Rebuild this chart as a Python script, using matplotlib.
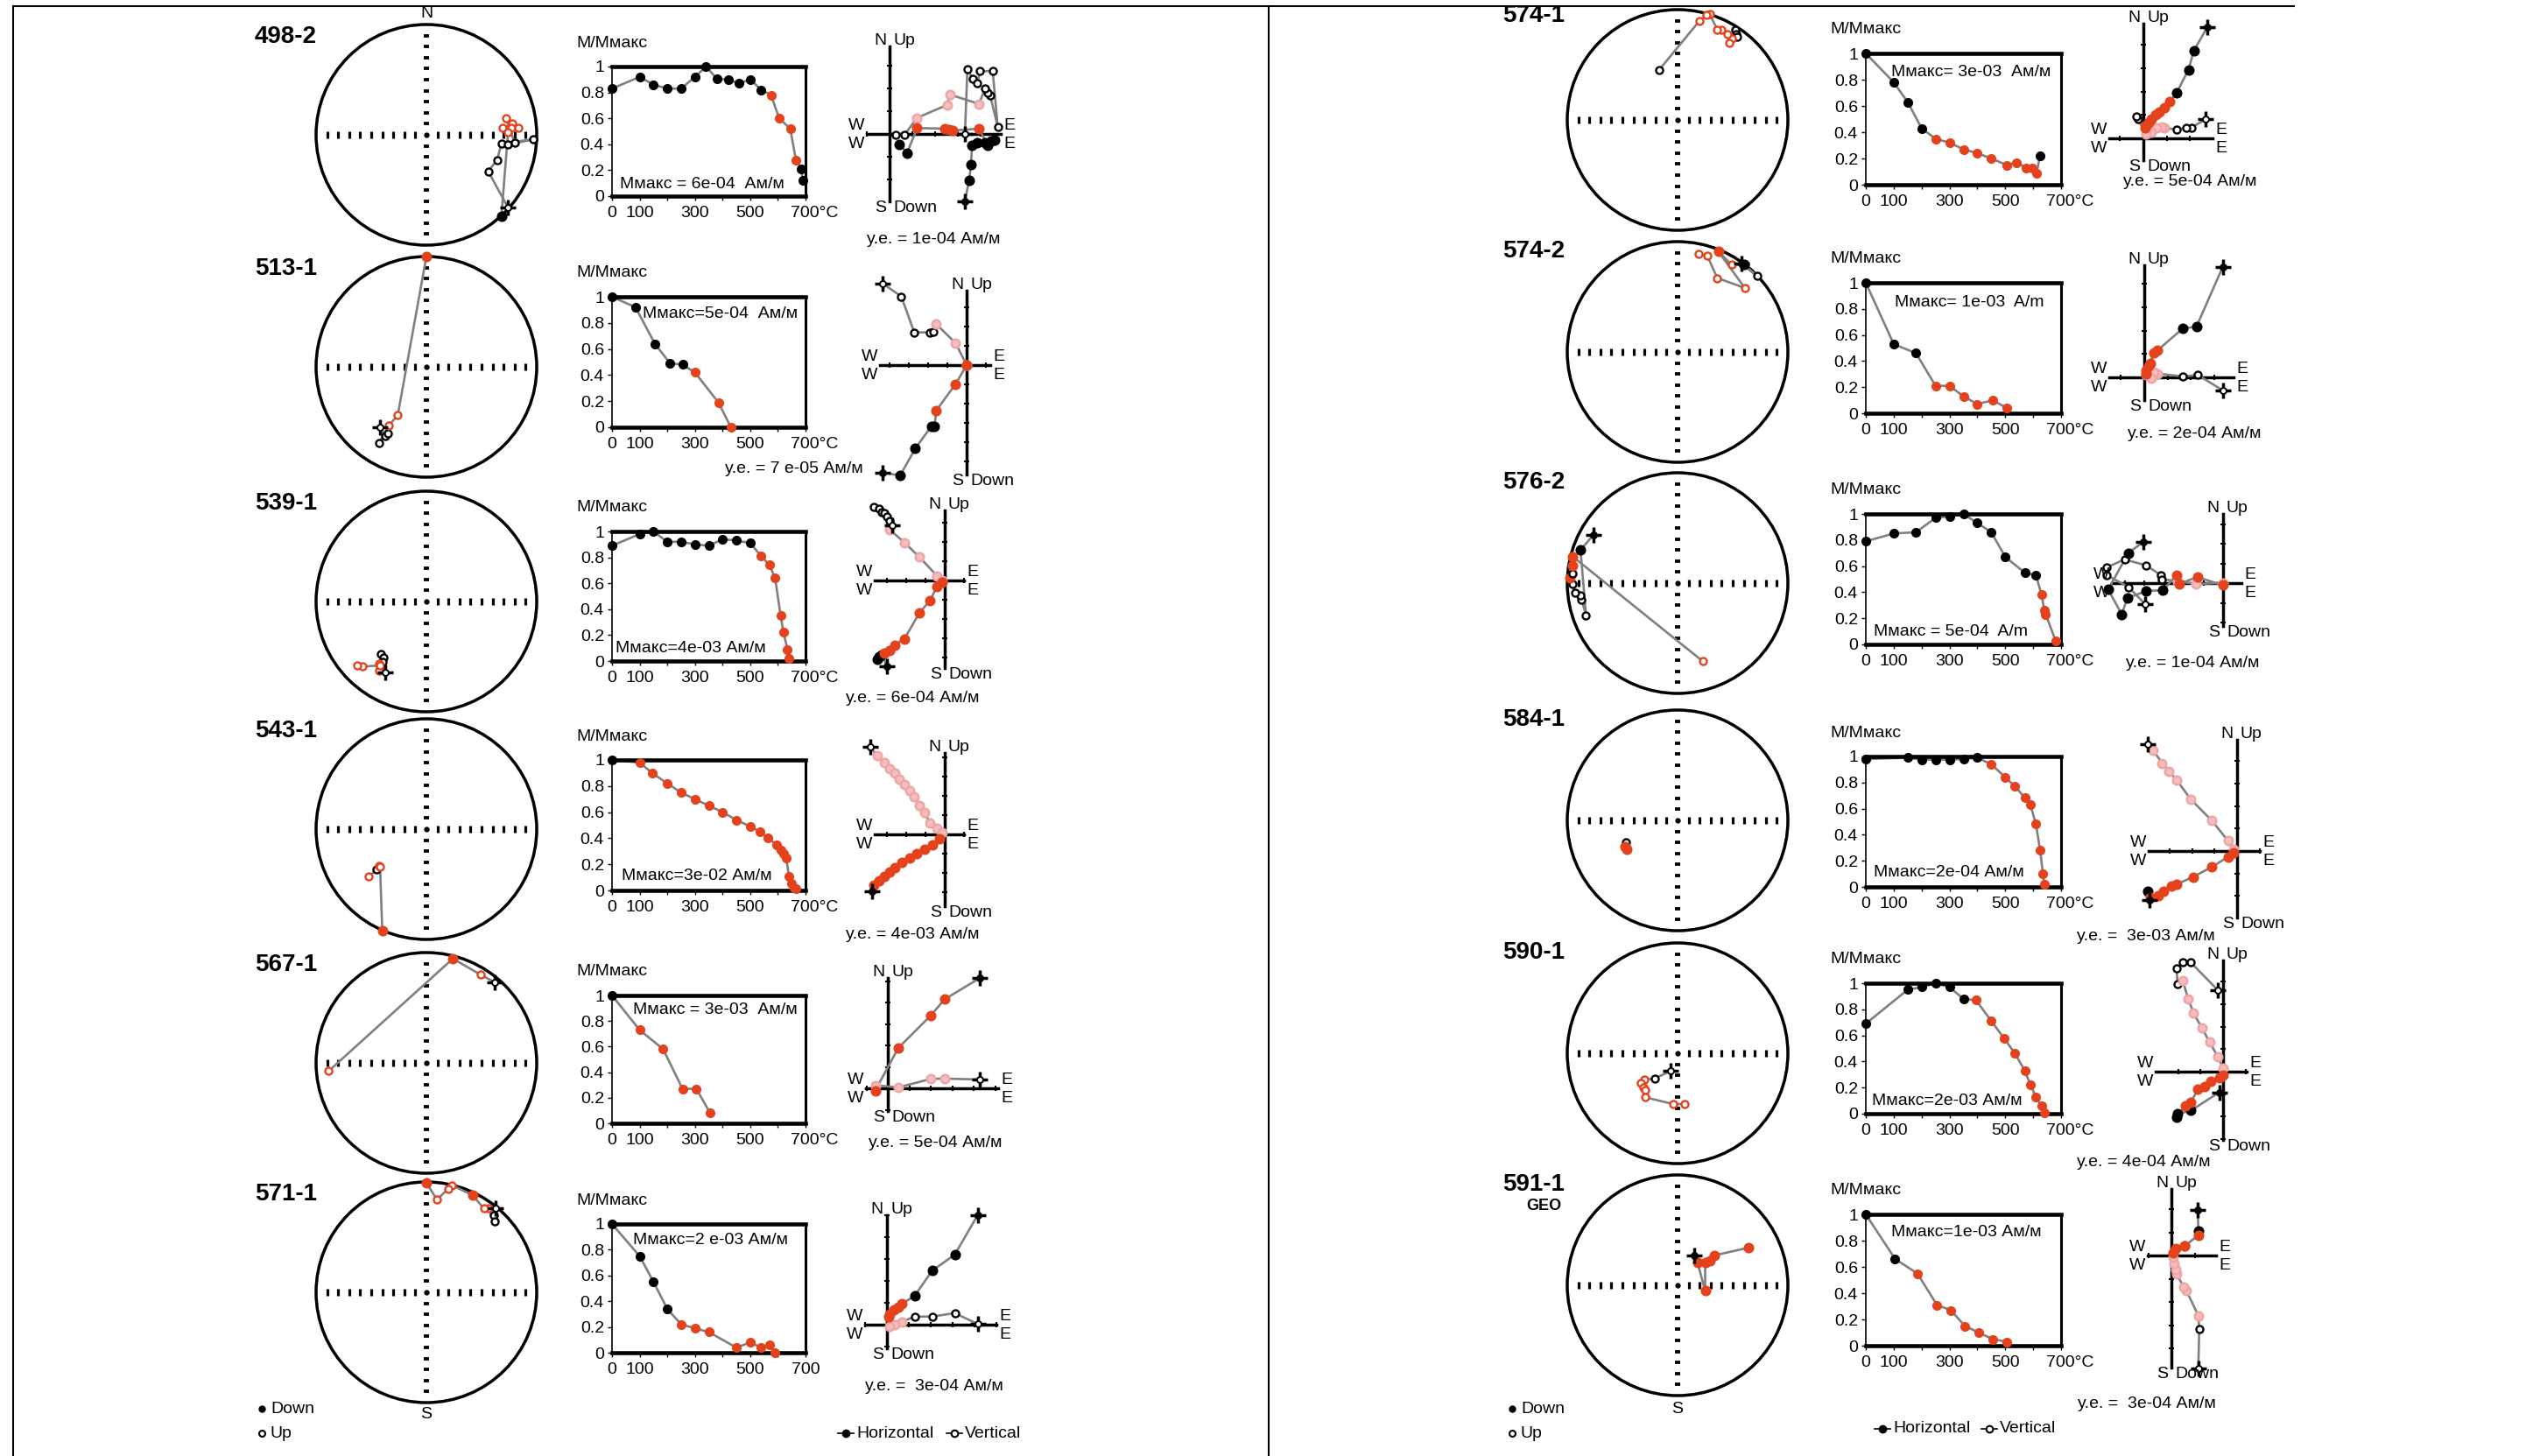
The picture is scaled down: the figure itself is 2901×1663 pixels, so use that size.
import matplotlib
matplotlib.use('Agg')
import matplotlib.pyplot as plt
from matplotlib.lines import Line2D
from matplotlib.patches import Circle

# ---------------- demagnetisation curves: T (°C), M/Mmax, colour (k black / r red)
t_4982 = [0, 100, 150, 200, 250, 300, 340, 380, 420, 460, 500, 540, 575, 605, 645, 665, 685, 690]
m_4982 = [0.83, 0.92, 0.86, 0.83, 0.83, 0.92, 1.0, 0.905, 0.90, 0.87, 0.90, 0.82, 0.78, 0.60, 0.52, 0.28, 0.21, 0.12]
c_4982 = 'kkkkkkkkkkkkrrrrkk'
t_5131 = [0, 85, 155, 210, 255, 300, 385, 430]
m_5131 = [1.0, 0.92, 0.64, 0.49, 0.48, 0.42, 0.19, 0.0]
c_5131 = 'kkkkkrrr'
t_5391 = [0, 100, 150, 200, 250, 300, 350, 400, 450, 500, 540, 570, 590, 610, 620, 635, 640]
m_5391 = [0.89, 0.98, 1.0, 0.92, 0.92, 0.90, 0.89, 0.94, 0.93, 0.91, 0.81, 0.74, 0.64, 0.35, 0.22, 0.09, 0.02]
c_5391 = 'kkkkkkkkkkrrrrrrr'
t_5431 = [0, 100, 145, 200, 250, 300, 350, 400, 450, 500, 535, 565, 595, 610, 620, 630, 640, 650, 658, 664]
m_5431 = [1.0, 0.98, 0.90, 0.82, 0.75, 0.70, 0.65, 0.60, 0.54, 0.49, 0.45, 0.40, 0.35, 0.31, 0.28, 0.25, 0.11, 0.056, 0.022, 0.011]
c_5431 = 'krrrrrrrrrrrrrrrrrrr'
t_5671 = [0, 100, 185, 255, 305, 355]
m_5671 = [1.0, 0.73, 0.58, 0.27, 0.27, 0.08]
c_5671 = 'krrrrr'
t_5711 = [0, 100, 150, 200, 250, 300, 350, 450, 500, 540, 570, 590]
m_5711 = [1.0, 0.75, 0.55, 0.34, 0.22, 0.19, 0.16, 0.04, 0.08, 0.04, 0.06, 0.0]
c_5711 = 'kkkkrrrrrrrr'
t_5741 = [0, 100, 150, 200, 250, 300, 350, 400, 450, 505, 540, 575, 595, 612, 625]
m_5741 = [1.0, 0.78, 0.63, 0.43, 0.35, 0.32, 0.27, 0.24, 0.20, 0.15, 0.17, 0.13, 0.13, 0.09, 0.22]
c_5741 = 'kkkkrrrrrrrrrrk'
t_5742 = [0, 100, 180, 250, 300, 350, 400, 455, 505]
m_5742 = [1.0, 0.53, 0.46, 0.21, 0.21, 0.13, 0.07, 0.10, 0.04]
c_5742 = 'kkkrrrrrr'
t_5762 = [0, 100, 180, 250, 300, 350, 400, 450, 500, 570, 610, 630, 640, 645, 680]
m_5762 = [0.79, 0.85, 0.86, 0.97, 0.98, 1.0, 0.93, 0.86, 0.67, 0.55, 0.53, 0.38, 0.26, 0.23, 0.03]
c_5762 = 'kkkkkkkkkkkrrrr'
t_5841 = [0, 150, 200, 250, 300, 350, 400, 450, 500, 535, 570, 590, 610, 625, 635, 640]
m_5841 = [0.98, 0.99, 0.975, 0.975, 0.975, 0.98, 0.99, 0.94, 0.84, 0.77, 0.685, 0.63, 0.48, 0.28, 0.10, 0.02]
c_5841 = 'kkkkkkkrrrrrrrrr'
t_5901 = [0, 150, 200, 250, 300, 350, 395, 450, 495, 535, 570, 590, 610, 630, 640]
m_5901 = [0.69, 0.95, 0.97, 1.0, 0.97, 0.88, 0.87, 0.71, 0.58, 0.46, 0.33, 0.22, 0.13, 0.06, 0.01]
c_5901 = 'kkkkkkrrrrrrrrr'
t_5911 = [0, 105, 185, 255, 305, 355, 405, 455, 505]
m_5911 = [1.0, 0.66, 0.55, 0.31, 0.27, 0.15, 0.10, 0.05, 0.03]
c_5911 = 'kkrrrrrrr'

# ---------------- stereonets (unit circle): K/k black down/up, R/r red down/up, P/p start
sx_4982 = [0.74, 0.56, 0.64, 0.68, 0.97, 0.74, 0.80, 0.72, 0.78, 0.69, 0.77, 0.83, 0.74, 0.68]
sy_4982 = [-0.66, -0.33, -0.23, -0.08, -0.04, -0.09, -0.07, 0.15, 0.10, 0.06, 0.06, 0.06, 0.02, -0.735]
sc_4982 = 'pkkkkkkrrrrrrK'
sx_5131 = [-0.42, -0.37, -0.35, -0.43, -0.34, -0.26, 0.0]
sy_5131 = [-0.55, -0.63, -0.60, -0.69, -0.53, -0.44, 1.0]
sc_5131 = 'pkkkrrR'
sx_5391 = [-0.37, -0.41, -0.39, -0.40, -0.43, -0.42, -0.43, -0.42, -0.58, -0.63]
sy_5391 = [-0.64, -0.48, -0.51, -0.55, -0.56, -0.60, -0.63, -0.58, -0.59, -0.58]
sc_5391 = 'pkkkrrrrrr'
sx_5431 = [-0.52, -0.45, -0.43, -0.42, -0.40]
sy_5431 = [-0.43, -0.365, -0.33, -0.34, -0.92]
sc_5431 = 'rkrrR'
sx_5671 = [0.62, 0.49, 0.24, -0.886]
sy_5671 = [0.73, 0.80, 0.945, -0.074]
sc_5671 = 'prRr'
sx_5711 = [0.63, 0.61, 0.62, 0.56, 0.52, 0.42, 0.23, 0.20, 0.096, 0.0]
sy_5711 = [0.76, 0.70, 0.64, 0.76, 0.76, 0.88, 0.97, 0.94, 0.84, 0.99]
sc_5711 = 'pkkrrRrrrR'
sx_5741 = [0.52, 0.53, 0.54, 0.49, 0.47, 0.45, 0.40, 0.36, 0.29, 0.26, 0.20, -0.17]
sy_5741 = [0.82, 0.78, 0.75, 0.74, 0.70, 0.78, 0.82, 0.82, 0.96, 0.95, 0.90, 0.45]
sc_5741 = 'kkkrrrrrrrrk'
sx_5742 = [0.58, 0.72, 0.60, 0.49, 0.37, 0.61, 0.36, 0.27, 0.19]
sy_5742 = [0.80, 0.69, 0.79, 0.79, 0.91, 0.58, 0.67, 0.87, 0.89]
sc_5742 = 'PkKrRrrrr'
sx_5762 = [-0.76, -0.88, -0.83, -0.87, -0.88, -0.93, -0.95, -0.98, -0.95, -0.95, -0.95, 0.23]
sy_5762 = [0.44, 0.30, -0.29, -0.15, -0.11, -0.09, -0.01, 0.045, 0.085, 0.16, 0.24, -0.71]
sc_5762 = 'PKkkkkkRkRRr'
sx_5841 = [-0.47, -0.48, -0.46]
sy_5841 = [-0.20, -0.24, -0.26]
sc_5841 = 'kRR'
sx_5901 = [-0.06, -0.21, -0.30, -0.33, -0.31, -0.29, -0.29, -0.04, 0.06]
sy_5901 = [-0.16, -0.23, -0.24, -0.27, -0.31, -0.33, -0.40, -0.46, -0.46]
sc_5901 = 'pkrrrrrrr'
sx_5911 = [0.15, 0.18, 0.25, 0.25, 0.29, 0.33, 0.64]
sy_5911 = [0.27, 0.21, -0.05, 0.21, 0.22, 0.27, 0.34]
sc_5911 = 'PRRRRRR'

# ---------------- Zijderveld (units of y.e.): horizontal (h) and vertical (v) projections
hx_4982 = [3.31, 3.49, 3.58, 3.62, 3.85, 4.2, 4.45, 4.6, 4.3, 3.93, 2.76, 2.6, 2.43, 1.21, 0.77, 0.44]
hy_4982 = [-2.95, -2.05, -1.35, -0.5, -0.4, -0.38, -0.3, -0.25, -0.5, 0.23, 0.15, 0.19, 0.23, 0.26, -0.83, -0.47]
hc_4982 = 'PKKKKKKKKRRRRRKK'
vx_4982 = [3.31, 3.42, 3.64, 3.86, 3.97, 4.53, 4.75, 4.42, 4.30, 4.19, 3.93, 2.65, 2.54, 1.21, 0.66, 0.26]
vy_4982 = [0.0, 2.86, 2.44, 2.24, 2.76, 2.76, 0.32, 1.69, 1.79, 1.99, 1.32, 1.73, 1.28, 0.71, -0.03, -0.03]
vc_4982 = 'pkkkkkkkkkiiiikk'
hx_5131 = [-4.36, -3.45, -2.66, -1.83, -1.67, -1.57, -0.57, 0.0]
hy_5131 = [-5.58, -5.73, -4.32, -3.18, -3.18, -2.35, -0.98, 0.0]
hc_5131 = 'PKKKKRRR'
vx_5131 = [-4.36, -3.39, -2.72, -1.93, -1.75, -1.57, -0.57, 0.0]
vy_5131 = [4.24, 3.56, 1.70, 1.70, 1.74, 2.12, 1.14, 0.0]
vc_5131 = 'pkkkkiii'
hx_5391 = [-3.0, -3.26, -3.52, -3.39, -3.13, -2.87, -2.61, -2.09, -1.31, -0.78, -0.39, -0.13]
hy_5391 = [-4.47, -3.86, -4.09, -3.94, -3.79, -3.64, -3.36, -3.03, -1.67, -1.06, -0.30, -0.08]
hc_5391 = 'PKKKRRRRRRRR'
vx_5391 = [-2.74, -3.66, -3.39, -3.26, -3.13, -3.0, -2.87, -2.87, -2.09, -1.31, -0.39, -0.13]
vy_5391 = [2.88, 3.82, 3.71, 3.56, 3.48, 3.33, 3.11, 2.65, 1.97, 1.21, 0.23, 0.0]
vc_5391 = 'pkkkkkkiiiii'
hx_5431 = [-3.79, -3.66, -3.39, -3.13, -2.87, -2.61, -2.22, -1.83, -1.44, -1.04, -0.65, -0.26]
hy_5431 = [-2.95, -2.65, -2.42, -2.20, -1.97, -1.74, -1.44, -1.21, -0.98, -0.76, -0.53, -0.23]
hc_5431 = 'PRRRRRRRRRRR'
vx_5431 = [-3.86, -3.52, -3.13, -2.87, -2.61, -2.35, -2.09, -1.83, -1.57, -1.31, -1.04, -0.78, -0.39, -0.13]
vy_5431 = [4.55, 4.09, 3.71, 3.41, 3.18, 2.88, 2.58, 2.27, 1.97, 1.52, 1.14, 0.61, 0.30, 0.08]
vc_5431 = 'piiiiiiiiiiiii'
hx_5671 = [4.29, 2.65, 2.01, 0.49, -0.59]
hy_5671 = [5.14, 4.15, 3.40, 1.88, -0.11]
hc_5671 = 'PRRRR'
vx_5671 = [4.29, 2.65, 2.01, 0.49, -0.59]
vy_5671 = [0.41, 0.45, 0.44, 0.04, 0.14]
vc_5671 = 'piiii'
hx_5711 = [4.14, 3.10, 2.07, 1.26, 0.69, 0.53, 0.30, 0.11, 0.07]
hy_5711 = [5.0, 3.2, 2.47, 1.31, 0.96, 0.80, 0.67, 0.47, 0.37]
hc_5711 = 'PKKKRRRRR'
vx_5711 = [4.14, 3.10, 2.07, 1.26, 0.69, 0.34, 0.11]
vy_5711 = [0.03, 0.53, 0.37, 0.37, 0.13, 0.0, -0.07]
vc_5711 = 'pkkkiii'
hx_5741 = [2.73, 2.16, 1.93, 1.43, 1.14, 0.91, 0.68, 0.52, 0.34, 0.23, 0.11, 0.07]
hy_5741 = [4.75, 3.75, 2.94, 1.96, 1.56, 1.31, 1.13, 1.0, 0.81, 0.69, 0.56, 0.44]
hc_5741 = 'PKKKRRRRRRRR'
vx_5741 = [2.66, 2.05, 1.82, 1.43, 0.91, 0.80, 0.57, 0.34, 0.11, -0.23, -0.30]
vy_5741 = [0.81, 0.46, 0.44, 0.38, 0.44, 0.50, 0.44, 0.25, 0.19, 0.81, 0.94]
vc_5741 = 'pkkkiiiiikk'
hx_5742 = [3.36, 2.23, 1.66, 0.57, 0.41, 0.25, 0.18, 0.07, 0.07]
hy_5742 = [4.73, 2.16, 2.10, 1.16, 1.06, 0.60, 0.48, 0.29, 0.16]
hc_5742 = 'PKKRRRRRR'
vx_5742 = [3.36, 2.30, 1.66, 0.57, 0.41, 0.30, 0.07]
vy_5742 = [-0.56, 0.10, 0.04, 0.16, 0.23, -0.03, 0.10]
vc_5742 = 'pkkiiii'
hx_5762 = [-4.03, -4.81, -5.83, -5.14, -4.86, -3.89, -3.06, -2.36, -2.22, -1.31, 0.0]
hy_5762 = [2.1, 1.53, -0.33, -1.59, -0.76, -0.4, -0.36, 0.39, -0.04, 0.31, -0.11]
hc_5762 = 'PKKKKKKRRRR'
vx_5762 = [-3.97, -4.8, -5.9, -5.9, -5.0, -3.9, -3.15, -3.1, -2.3, -1.4, 0.0]
vy_5762 = [-1.05, -0.2, 0.4, 0.8, 1.2, 0.9, 0.4, 0.2, 0.1, -0.05, 0.02]
vc_5762 = 'pkkkkkkkiii'
hx_5841 = [-3.9, -3.98, -3.86, -3.5, -3.26, -2.90, -2.67, -1.95, -1.12, -0.40, -0.17]
hy_5841 = [-2.18, -1.79, -2.05, -1.99, -1.79, -1.54, -1.47, -1.15, -0.71, -0.26, -0.06]
hc_5841 = 'PKRRRRRRRRR'
vx_5841 = [-3.98, -3.74, -3.33, -3.02, -2.67, -2.07, -1.12, -0.40, -0.17]
vy_5841 = [4.74, 4.49, 3.91, 3.53, 3.14, 2.31, 1.35, 0.45, 0.06]
vc_5841 = 'piiiiiiii'
hx_5901 = [-0.17, -1.43, -2.02, -2.07, -1.67, -1.43, -1.12, -0.83, -0.55, -0.17, 0.0]
hy_5901 = [-0.92, -1.73, -1.88, -2.01, -1.50, -1.35, -0.79, -0.67, -0.41, -0.28, -0.15]
hc_5901 = 'PKKKRRRRRRR'
vx_5901 = [-0.24, -1.43, -1.79, -2.07, -2.02, -1.79, -1.55, -1.31, -0.95, -0.60, -0.24, 0.0]
vy_5901 = [3.63, 4.85, 4.85, 4.59, 3.91, 4.04, 3.24, 2.60, 1.96, 1.32, 0.68, 0.17]
vc_5901 = 'pkkkkiiiiiii'
hx_5911 = [1.14, 1.16, 1.16, 0.57, 0.55, 0.18, 0.07]
hy_5911 = [1.96, 1.04, 0.87, 0.41, 0.42, 0.29, 0.10]
hc_5911 = 'PKRRRRR'
vx_5911 = [1.16, 1.2, 1.16, 0.64, 0.52, 0.23, 0.18, 0.11, 0.07]
vy_5911 = [-4.86, -3.17, -2.59, -1.5, -1.35, -0.79, -0.6, -0.35, -0.09]
vc_5911 = 'pkiiiiiii'

W, H = 2901, 1663
RED = '#e4421c'
PINK = '#f7bcbc'
GREY = '#808080'
FS = 14

plt.rcParams['font.family'] = ['Liberation Sans', 'DejaVu Sans']
plt.rcParams['font.size'] = FS

fig = plt.figure(figsize=(W / 100, H / 100), dpi=100)


def box(x, y, w, h):
    ax = fig.add_axes([x / W, 1 - (y + h) / H, w / W, h / H])
    ax.patch.set_alpha(0)
    return ax


def txt(x, y, s, **kw):
    kw.setdefault('fontsize', FS)
    fig.text(x / W, 1 - y / H, s, **kw)


def fline(xs, ys, **kw):
    fig.add_artist(Line2D([x / W for x in xs], [1 - y / H for y in ys],
                          transform=fig.transFigure, **kw))


STYLE = {
    'K': dict(mfc='black', mec='black', ms=7),
    'k': dict(mfc='white', mec='black', ms=5.8),
    'R': dict(mfc=RED, mec=RED, ms=7),
    'r': dict(mfc='white', mec=RED, ms=5.8),
    'i': dict(mfc=PINK, mec='#eea5a5', ms=7),
}


def dots(ax, xs, ys, codes):
    ax.plot(xs, ys, color=GREY, lw=1.9, zorder=2, clip_on=False)
    for x, y, c in zip(xs, ys, codes):
        if c in 'Pp':
            ax.plot(x, y, marker='+', color='black', ms=13, mew=2.5, zorder=4, clip_on=False)
            ax.plot(x, y, marker='o', mfc='black' if c == 'P' else 'white', mec='black',
                    ms=5, mew=1.4, zorder=5, clip_on=False)
        else:
            ax.plot(x, y, marker='o', mew=1.7, zorder=3, clip_on=False, **STYLE[c])


def stereo(cx, cy, R, xs, ys, codes):
    ax = box(cx - 1.1 * R, cy - 1.1 * R, 2.2 * R, 2.2 * R)
    ax.set_xlim(-1.1, 1.1)
    ax.set_ylim(-1.1, 1.1)
    ax.axis('off')
    ax.add_patch(Circle((0, 0), 1, fill=False, lw=2.5, color='black'))
    ticks = [k / 10 for k in range(-9, 10) if k != 0]
    ax.plot(ticks, [0] * len(ticks), ls='none', marker='|', ms=6, mew=2.3, color='black')
    ax.plot([0] * len(ticks), ticks, ls='none', marker='_', ms=5, mew=2.7, color='black')
    ax.plot(0, 0, marker='o', ms=3.5, color='black')
    dots(ax, xs, ys, codes)


def demag(frame, t, m, c, note, npos, last='700°C'):
    x0, y0, x1, y1 = frame
    ax = box(x0, y0, x1 - x0, y1 - y0)
    ax.set_xlim(0, 700)
    ax.set_ylim(0, 1)
    for side, lw in (('top', 3.3), ('bottom', 3.3), ('left', 1.2), ('right', 2.2)):
        ax.spines[side].set_linewidth(lw)
    ax.set_xticks(range(0, 701, 100))
    ax.set_xticklabels([])
    ax.set_yticks([0, 0.2, 0.4, 0.6, 0.8, 1])
    ax.set_yticklabels(['0', '0.2', '0.4', '0.6', '0.8', '1'])
    ax.tick_params(axis='both', direction='out', length=3.5, width=1, labelsize=FS, pad=3)
    for v, lab in zip([0, 100, 300, 500], ['0', '100', '300', '500']):
        ax.annotate(lab, (v, 0), xycoords=('data', 'axes fraction'), xytext=(0, -8),
                    textcoords='offset points', ha='center', va='top', fontsize=FS)
    ax.annotate(last, (700, 0), xycoords=('data', 'axes fraction'),
                xytext=(-12 if last.endswith('C') else 0, -8), textcoords='offset points',
                ha='left' if last.endswith('C') else 'center', va='top', fontsize=FS)
    ax.plot(t, m, color=GREY, lw=1.9, zorder=2, clip_on=False)
    for ti, mi, ci in zip(t, m, c):
        ax.plot(ti, mi, 'o', ms=7, color='black' if ci == 'k' else RED, zorder=3, clip_on=False)
    ax.text(npos[0], npos[1], note, transform=ax.transAxes, fontsize=FS, va='center')
    txt(x0 - 41, y0 - 27, 'М/Ммакс', va='center')


def zijd(origin, ext, hx, hy, hc, vx, vy, vc, ye, yepos):
    X0, Y0, s = origin
    xl, xr, yt, yb = ext
    ax = box(X0 - 220, Y0 - 200, 440, 400)
    ax.set_xlim(-220 / s, 220 / s)
    ax.set_ylim(-200 / s, 200 / s)
    ax.axis('off')
    L, Rr, T, B = (xl - X0) / s, (xr - X0) / s, (Y0 - yt) / s, (Y0 - yb) / s
    ax.plot([L, Rr], [0, 0], color='black', lw=2.5, zorder=1)
    ax.plot([0, 0], [B, T], color='black', lw=2.5, zorder=1)
    xt = [k for k in range(int(L), int(Rr) + 1) if k != 0]
    yt_ = [k for k in range(int(B), int(T) + 1) if k != 0]
    ax.plot(xt, [0] * len(xt), ls='none', marker='|', ms=5, mew=1.5, color='black', zorder=1)
    ax.plot([0] * len(yt_), yt_, ls='none', marker='_', ms=5, mew=1.5, color='black', zorder=1)
    dots(ax, vx, vy, vc)
    dots(ax, hx, hy, hc)
    txt(X0 - 4, yt + 2, 'N', ha='right', va='bottom')
    txt(X0 + 4, yt + 2, 'Up', ha='left', va='bottom')
    txt(X0 - 4, yb - 1, 'S', ha='right', va='top')
    txt(X0 + 4, yb - 1, 'Down', ha='left', va='top')
    txt(xl - 3, Y0 - 1, 'W', ha='right', va='bottom')
    txt(xl - 3, Y0 + 3, 'W', ha='right', va='top')
    txt(xr + 3, Y0 - 1, 'E', ha='left', va='bottom')
    txt(xr + 3, Y0 + 3, 'E', ha='left', va='top')
    txt(yepos[0], yepos[1], ye, va='center')


# ---------------- left column
stereo(487, 154, 126, sx_4982, sy_4982, sc_4982)
demag((699, 76, 920, 224), t_4982, m_4982, c_4982, 'Ммакс = 6e-04  Ам/м', (0.04, 0.09))
zijd((1016, 153, 26), (990, 1143, 53, 230), hx_4982, hy_4982, hc_4982, vx_4982, vy_4982, vc_4982,
     'у.е. = 1e-04 Ам/м', (990, 273))

stereo(487, 419, 126, sx_5131, sy_5131, sc_5131)
demag((699, 339, 920, 488), t_5131, m_5131, c_5131, 'Ммакс=5e-04  Ам/м', (0.16, 0.87))
zijd((1104, 417, 22), (1005, 1131, 332, 542), hx_5131, hy_5131, hc_5131, vx_5131, vy_5131, vc_5131,
     'у.е. = 7 e-05 Ам/м', (828, 535))

stereo(487, 687, 126, sx_5391, sy_5391, sc_5391)
demag((699, 607, 920, 755), t_5391, m_5391, c_5391, 'Ммакс=4e-03 Ам/м', (0.02, 0.095))
zijd((1079, 663, 22), (999, 1101, 583, 763), hx_5391, hy_5391, hc_5391, vx_5391, vy_5391, vc_5391,
     'у.е. = 6e-04 Ам/м', (966, 798))

stereo(487, 947, 126, sx_5431, sy_5431, sc_5431)
demag((699, 868, 920, 1017), t_5431, m_5431, c_5431, 'Ммакс=3e-02 Ам/м', (0.05, 0.11))
zijd((1079, 953, 22), (999, 1101, 860, 1035), hx_5431, hy_5431, hc_5431, vx_5431, vy_5431, vc_5431,
     'у.е. = 4e-03 Ам/м', (966, 1067))

stereo(487, 1214, 126, sx_5671, sy_5671, sc_5671)
demag((699, 1137, 920, 1283), t_5671, m_5671, c_5671, 'Ммакс = 3e-03  Ам/м', (0.11, 0.89))
zijd((1014, 1243, 24.5), (989, 1140, 1117, 1269), hx_5671, hy_5671, hc_5671, vx_5671, vy_5671, vc_5671,
     'у.е. = 5e-04 Ам/м', (992, 1305))

stereo(487, 1476, 126, sx_5711, sy_5711, sc_5711)
demag((699, 1398, 920, 1545), t_5711, m_5711, c_5711, 'Ммакс=2 e-03 Ам/м', (0.11, 0.875), last='700')
zijd((1013, 1513, 25), (988, 1138, 1388, 1540), hx_5711, hy_5711, hc_5711, vx_5711, vy_5711, vc_5711,
     'у.е. =  3e-04 Ам/м', (988, 1583))

# ---------------- right column
stereo(1916, 137, 126, sx_5741, sy_5741, sc_5741)
demag((2131, 61, 2354, 211), t_5741, m_5741, c_5741, 'Ммакс= 3e-03  Ам/м', (0.13, 0.855))
zijd((2448, 158, 26.7), (2409, 2527, 27, 183), hx_5741, hy_5741, hc_5741, vx_5741, vy_5741, vc_5741,
     'у.е. = 5e-04 Ам/м', (2425, 208))

stereo(1916, 402, 126, sx_5742, sy_5742, sc_5742)
demag((2131, 323, 2354, 472), t_5742, m_5742, c_5742, 'Ммакс= 1e-03  A/m', (0.15, 0.85))
zijd((2449, 431, 26.7), (2409, 2551, 303, 457), hx_5742, hy_5742, hc_5742, vx_5742, vy_5742, vc_5742,
     'у.е. = 2e-04 Ам/м', (2430, 495))

stereo(1916, 666, 126, sx_5762, sy_5762, sc_5762)
demag((2131, 587, 2354, 736), t_5762, m_5762, c_5762, 'Ммакс = 5e-04  A/m', (0.04, 0.10))
zijd((2539, 666, 22.5), (2412, 2560, 587, 715), hx_5762, hy_5762, hc_5762, vx_5762, vy_5762, vc_5762,
     'у.е. = 1e-04 Ам/м', (2428, 758))

stereo(1916, 937, 126, sx_5841, sy_5841, sc_5841)
demag((2131, 864, 2354, 1013), t_5841, m_5841, c_5841, 'Ммакс=2e-04 Ам/м', (0.04, 0.11))
zijd((2555, 972, 25.7), (2454, 2581, 845, 1048), hx_5841, hy_5841, hc_5841, vx_5841, vy_5841, vc_5841,
     'у.е. =  3e-03 Ам/м', (2372, 1070))

stereo(1916, 1203, 126, sx_5901, sy_5901, sc_5901)
demag((2131, 1123, 2354, 1272), t_5901, m_5901, c_5901, 'Ммакс=2e-03 Ам/м', (0.03, 0.10))
zijd((2539, 1224, 25.7), (2462, 2566, 1097, 1302), hx_5901, hy_5901, hc_5901, vx_5901, vy_5901, vc_5901,
     'у.е. = 4e-04 Ам/м', (2372, 1327))

stereo(1916, 1468, 126, sx_5911, sy_5911, sc_5911)
demag((2131, 1387, 2354, 1537), t_5911, m_5911, c_5911, 'Ммакс=1e-03 Ам/м', (0.13, 0.86))
zijd((2480, 1434, 26.5), (2453, 2531, 1358, 1562), hx_5911, hy_5911, hc_5911, vx_5911, vy_5911, vc_5911,
     'у.е. =  3e-04 Ам/м', (2373, 1603))

# ---------------- sample names
for name, y in zip(['498-2', '513-1', '539-1', '543-1', '567-1', '571-1'], [42, 307, 575, 835, 1102, 1364]):
    txt(291, y, name, fontsize=20, fontweight='bold', va='center')
for name, y in zip(['574-1', '574-2', '576-2', '584-1', '590-1', '591-1'], [18, 287, 551, 822, 1088, 1353]):
    txt(1716, y, name, fontsize=20, fontweight='bold', va='center')
txt(1743, 1377, 'GEO', fontsize=13, fontweight='bold', va='center')

txt(487, 16, 'N', ha='center', va='center')
txt(487, 1615, 'S', ha='center', va='center')
txt(1916, 1610, 'S', ha='center', va='center')

# ---------------- legends
for lx, ly in ((299, 1609), (1727, 1609)):
    fline([lx], [ly], ls='none', marker='o', ms=5, color='black')
    txt(lx + 10, ly, 'Down', va='center')
    fline([lx], [ly + 28], ls='none', marker='o', ms=5, mfc='white', mec='black', mew=1.5)
    txt(lx + 10, ly + 28, 'Up', va='center')

for hx0, vx0, ly in ((966, 1090, 1637), (2150, 2272, 1632)):
    fline([hx0 - 9, hx0 + 9], [ly, ly], color='black', lw=1.2)
    fline([hx0], [ly], ls='none', marker='o', ms=6, color='black')
    txt(hx0 + 12, ly, 'Horizontal', va='center')
    fline([vx0 - 9, vx0 + 9], [ly, ly], color='black', lw=1.2)
    fline([vx0], [ly], ls='none', marker='o', ms=5.5, mfc='white', mec='black', mew=1.5)
    txt(vx0 + 12, ly, 'Vertical', va='center')

# ---------------- frame lines
fline([15, 15], [7, H], color='black', lw=1.5)
fline([1449, 1449], [7, H], color='black', lw=1.5)
fline([15, 2620], [7, 7], color='black', lw=1.5)

fig.savefig('out.png', dpi=100)
